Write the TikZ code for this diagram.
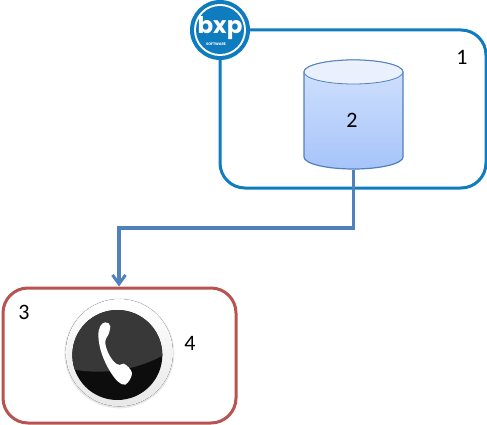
\documentclass[tikz,border=0pt]{standalone}
\usepackage{fontspec}
\setmainfont{Carlito}
\newfontfamily\logofont{Poppins}
\usepackage{tikz}
\usetikzlibrary{arrows.meta,positioning,calc}

\definecolor{bxpblue}{HTML}{0F7CBF}
\definecolor{linkblue}{HTML}{4F81BD}
\definecolor{boxred}{HTML}{B85450}
\definecolor{dbtop}{HTML}{EAF1FD}
\definecolor{dbmid}{HTML}{D3E2FD}
\definecolor{dbbot}{HTML}{A6C4FA}

\begin{document}
\begin{tikzpicture}[
  x=1pt, y=-1pt,
  font=\fontsize{22}{26}\selectfont,
  label/.style={inner sep=0pt},
  region/.style={draw, rounded corners=25pt, line width=3pt, fill=white, inner sep=0pt},
  link/.style={draw=linkblue, line width=3.4pt},
  tip/.style={-{Straight Barb[length=9pt,width=13pt,line width=3pt]}}
]
\useasboundingbox (0,0) rectangle (487,425);

% regions
\node[region, draw=bxpblue, minimum width=266pt, minimum height=158pt] (server) at (353,109) {};
\node[region, draw=boxred, minimum width=233pt, minimum height=135pt] (client) at (119.5,355.5) {};
\node[label] (n1) at (462,57) {1};
\node[label] (n3) at (24,312) {3};
\node[label] (n4) at (190,343) {4};

% database
\path[top color=dbmid, bottom color=dbbot, draw=linkblue, line width=1.2pt]
  (304,72) -- (304,157) arc[start angle=180, end angle=360, x radius=49.5pt, y radius=12pt]
  -- (403,72) arc[start angle=0, end angle=180, x radius=49.5pt, y radius=12pt] -- cycle;
\path[fill=dbtop, draw=linkblue, line width=.8pt] (353.5,72) ellipse[x radius=49.5pt, y radius=12pt];
\node[label, minimum width=99pt, minimum height=109pt] (db) at (353.5,115) {};
\node[label] (n2) at (352,120) {2};

% connector
\coordinate (bend) at (119,228);
\draw[link, tip] (db.south) |- (bend) -- (client.north -| bend);

% logo
\fill[bxpblue] (220,30) circle[radius=30pt];
\fill[white] (220,30) circle[radius=26pt];
\fill[bxpblue] (220,30) circle[radius=24pt];
\node[label, anchor=base, text=white, font=\logofont\bfseries\fontsize{23}{23}\selectfont] (bxp) at (220,34) {\raisebox{0pt}[\height][0pt]{bxp}};
\node[label, text=white, font=\logofont\bfseries\fontsize{3.6}{4}\selectfont] (software) at (216,44) {SOFTWARE};

% phone
\begin{scope}[shift={(50,285)}, scale=1/3]
  \fill[gray!18] (208,205) circle[radius=165];
  \fill[top color=white, bottom color=gray!18] (208,203) circle[radius=161];
  \fill[black!95] (202,210) circle[radius=135];
  \begin{scope}
    \clip (202,210) circle[radius=135];
    \fill[black!78] (50,60) -- (345,60) -- (345,208) .. controls (270,250) and (170,275) .. (50,250) -- cycle;
  \end{scope}
  \fill[white] (166,112) .. controls (172,112) and (182,116) .. (181,124)
    .. controls (180,136) and (176,150) .. (171,156)
    .. controls (166,162) and (164,172) .. (168,186)
    .. controls (174,206) and (184,224) .. (198,236)
    .. controls (206,242) and (212,240) .. (220,236)
    .. controls (230,238) and (244,254) .. (246,264)
    .. controls (246,274) and (238,292) .. (226,299)
    .. controls (212,302) and (196,284) .. (182,262)
    .. controls (162,230) and (146,190) .. (145,152)
    .. controls (145,130) and (152,114) .. (166,112) -- cycle;
\end{scope}
\end{tikzpicture}
\end{document}
